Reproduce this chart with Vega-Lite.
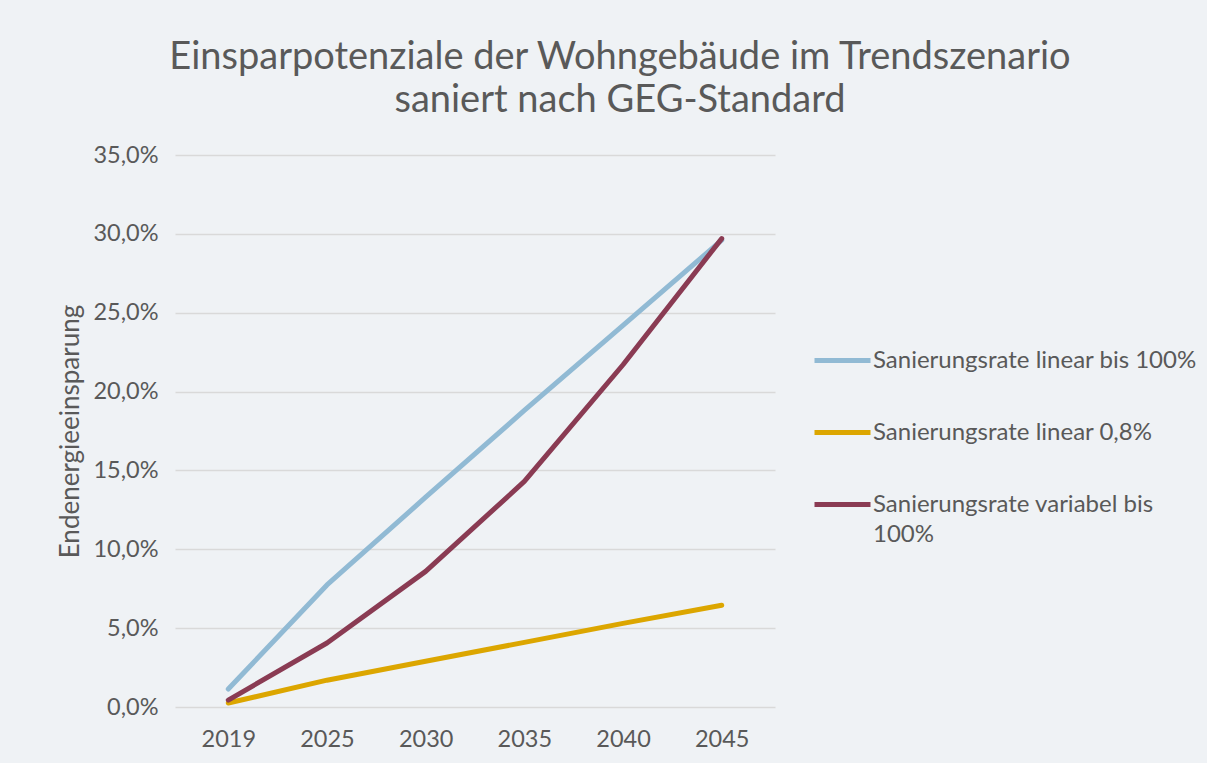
{
  "$schema": "https://vega.github.io/schema/vega-lite/v6.json",
  "autosize": {"type": "none"},
  "padding": {"left": 175, "top": 155, "right": 432, "bottom": 56},
  "width": 600,
  "height": 552,
  "background": "#EFF2F5",
  "title": {
    "text": ["Einsparpotenziale der Wohngebäude im Trendszenario", "saniert nach GEG-Standard"],
    "font": "Lato",
    "fontSize": 38,
    "fontWeight": "normal",
    "color": "#595959",
    "anchor": "middle",
    "dx": 145,
    "lineHeight": 43,
    "offset": 23
  },
  "data": {
    "values": [
      {"Jahr": "2019", "Szenario": "Sanierungsrate linear bis 100%", "Wert": 0.0114},
      {"Jahr": "2025", "Szenario": "Sanierungsrate linear bis 100%", "Wert": 0.0774},
      {"Jahr": "2030", "Szenario": "Sanierungsrate linear bis 100%", "Wert": 0.133},
      {"Jahr": "2035", "Szenario": "Sanierungsrate linear bis 100%", "Wert": 0.188},
      {"Jahr": "2040", "Szenario": "Sanierungsrate linear bis 100%", "Wert": 0.242},
      {"Jahr": "2045", "Szenario": "Sanierungsrate linear bis 100%", "Wert": 0.296},
      {"Jahr": "2019", "Szenario": "Sanierungsrate linear 0,8%", "Wert": 0.0025},
      {"Jahr": "2025", "Szenario": "Sanierungsrate linear 0,8%", "Wert": 0.017},
      {"Jahr": "2030", "Szenario": "Sanierungsrate linear 0,8%", "Wert": 0.029},
      {"Jahr": "2035", "Szenario": "Sanierungsrate linear 0,8%", "Wert": 0.041},
      {"Jahr": "2040", "Szenario": "Sanierungsrate linear 0,8%", "Wert": 0.053},
      {"Jahr": "2045", "Szenario": "Sanierungsrate linear 0,8%", "Wert": 0.0645},
      {"Jahr": "2019", "Szenario": "Sanierungsrate variabel bis 100%", "Wert": 0.0044},
      {"Jahr": "2025", "Szenario": "Sanierungsrate variabel bis 100%", "Wert": 0.0406},
      {"Jahr": "2030", "Szenario": "Sanierungsrate variabel bis 100%", "Wert": 0.086},
      {"Jahr": "2035", "Szenario": "Sanierungsrate variabel bis 100%", "Wert": 0.143},
      {"Jahr": "2040", "Szenario": "Sanierungsrate variabel bis 100%", "Wert": 0.217},
      {"Jahr": "2045", "Szenario": "Sanierungsrate variabel bis 100%", "Wert": 0.297}
    ]
  },
  "mark": {"type": "line", "strokeWidth": 5, "strokeCap": "round", "strokeJoin": "round"},
  "encoding": {
    "x": {
      "field": "Jahr",
      "type": "ordinal",
      "scale": {"type": "point", "padding": 0.54},
      "axis": {"title": null, "labelAngle": 0, "domain": false, "ticks": false, "labelPadding": 20}
    },
    "y": {
      "field": "Wert",
      "type": "quantitative",
      "scale": {"domain": [0, 0.35]},
      "axis": {
        "title": "Endenergieeinsparung",
        "values": [0, 0.05, 0.1, 0.15, 0.2, 0.25, 0.3, 0.35],
        "labelExpr": "replace(format(datum.value, '.1%'), '.', ',')",
        "domain": false,
        "ticks": false,
        "labelPadding": 17,
        "titlePadding": 9,
        "grid": true
      }
    },
    "color": {
      "field": "Szenario",
      "type": "nominal",
      "scale": {
        "domain": ["Sanierungsrate linear bis 100%", "Sanierungsrate linear 0,8%", "Sanierungsrate variabel bis 100%"],
        "range": ["#91BAD4", "#DCA600", "#8A3B53"]
      },
      "legend": {
        "title": null,
        "orient": "none",
        "legendX": 637,
        "legendY": 175,
        "symbolType": "stroke",
        "symbolSize": 3136,
        "symbolStrokeWidth": 5,
        "labelOffset": 0,
        "rowPadding": 29,
        "padding": 0,
        "labelLimit": 400,
        "labelExpr": "datum.label == 'Sanierungsrate variabel bis 100%' ? ['Sanierungsrate variabel bis', '100%'] : datum.label"
      }
    }
  },
  "config": {
    "view": {"stroke": null},
    "font": "Lato",
    "style": {"guide-label": {"lineHeight": 30}},
    "axis": {
      "labelFont": "Lato",
      "labelFontSize": 23.5,
      "labelColor": "#595959",
      "titleFont": "Lato",
      "titleFontSize": 26,
      "titleFontWeight": "normal",
      "titleColor": "#595959",
      "gridColor": "#D9D9D9",
      "gridWidth": 1.5
    },
    "legend": {
      "labelFont": "Lato",
      "labelFontSize": 24,
      "labelColor": "#595959"
    }
  }
}
